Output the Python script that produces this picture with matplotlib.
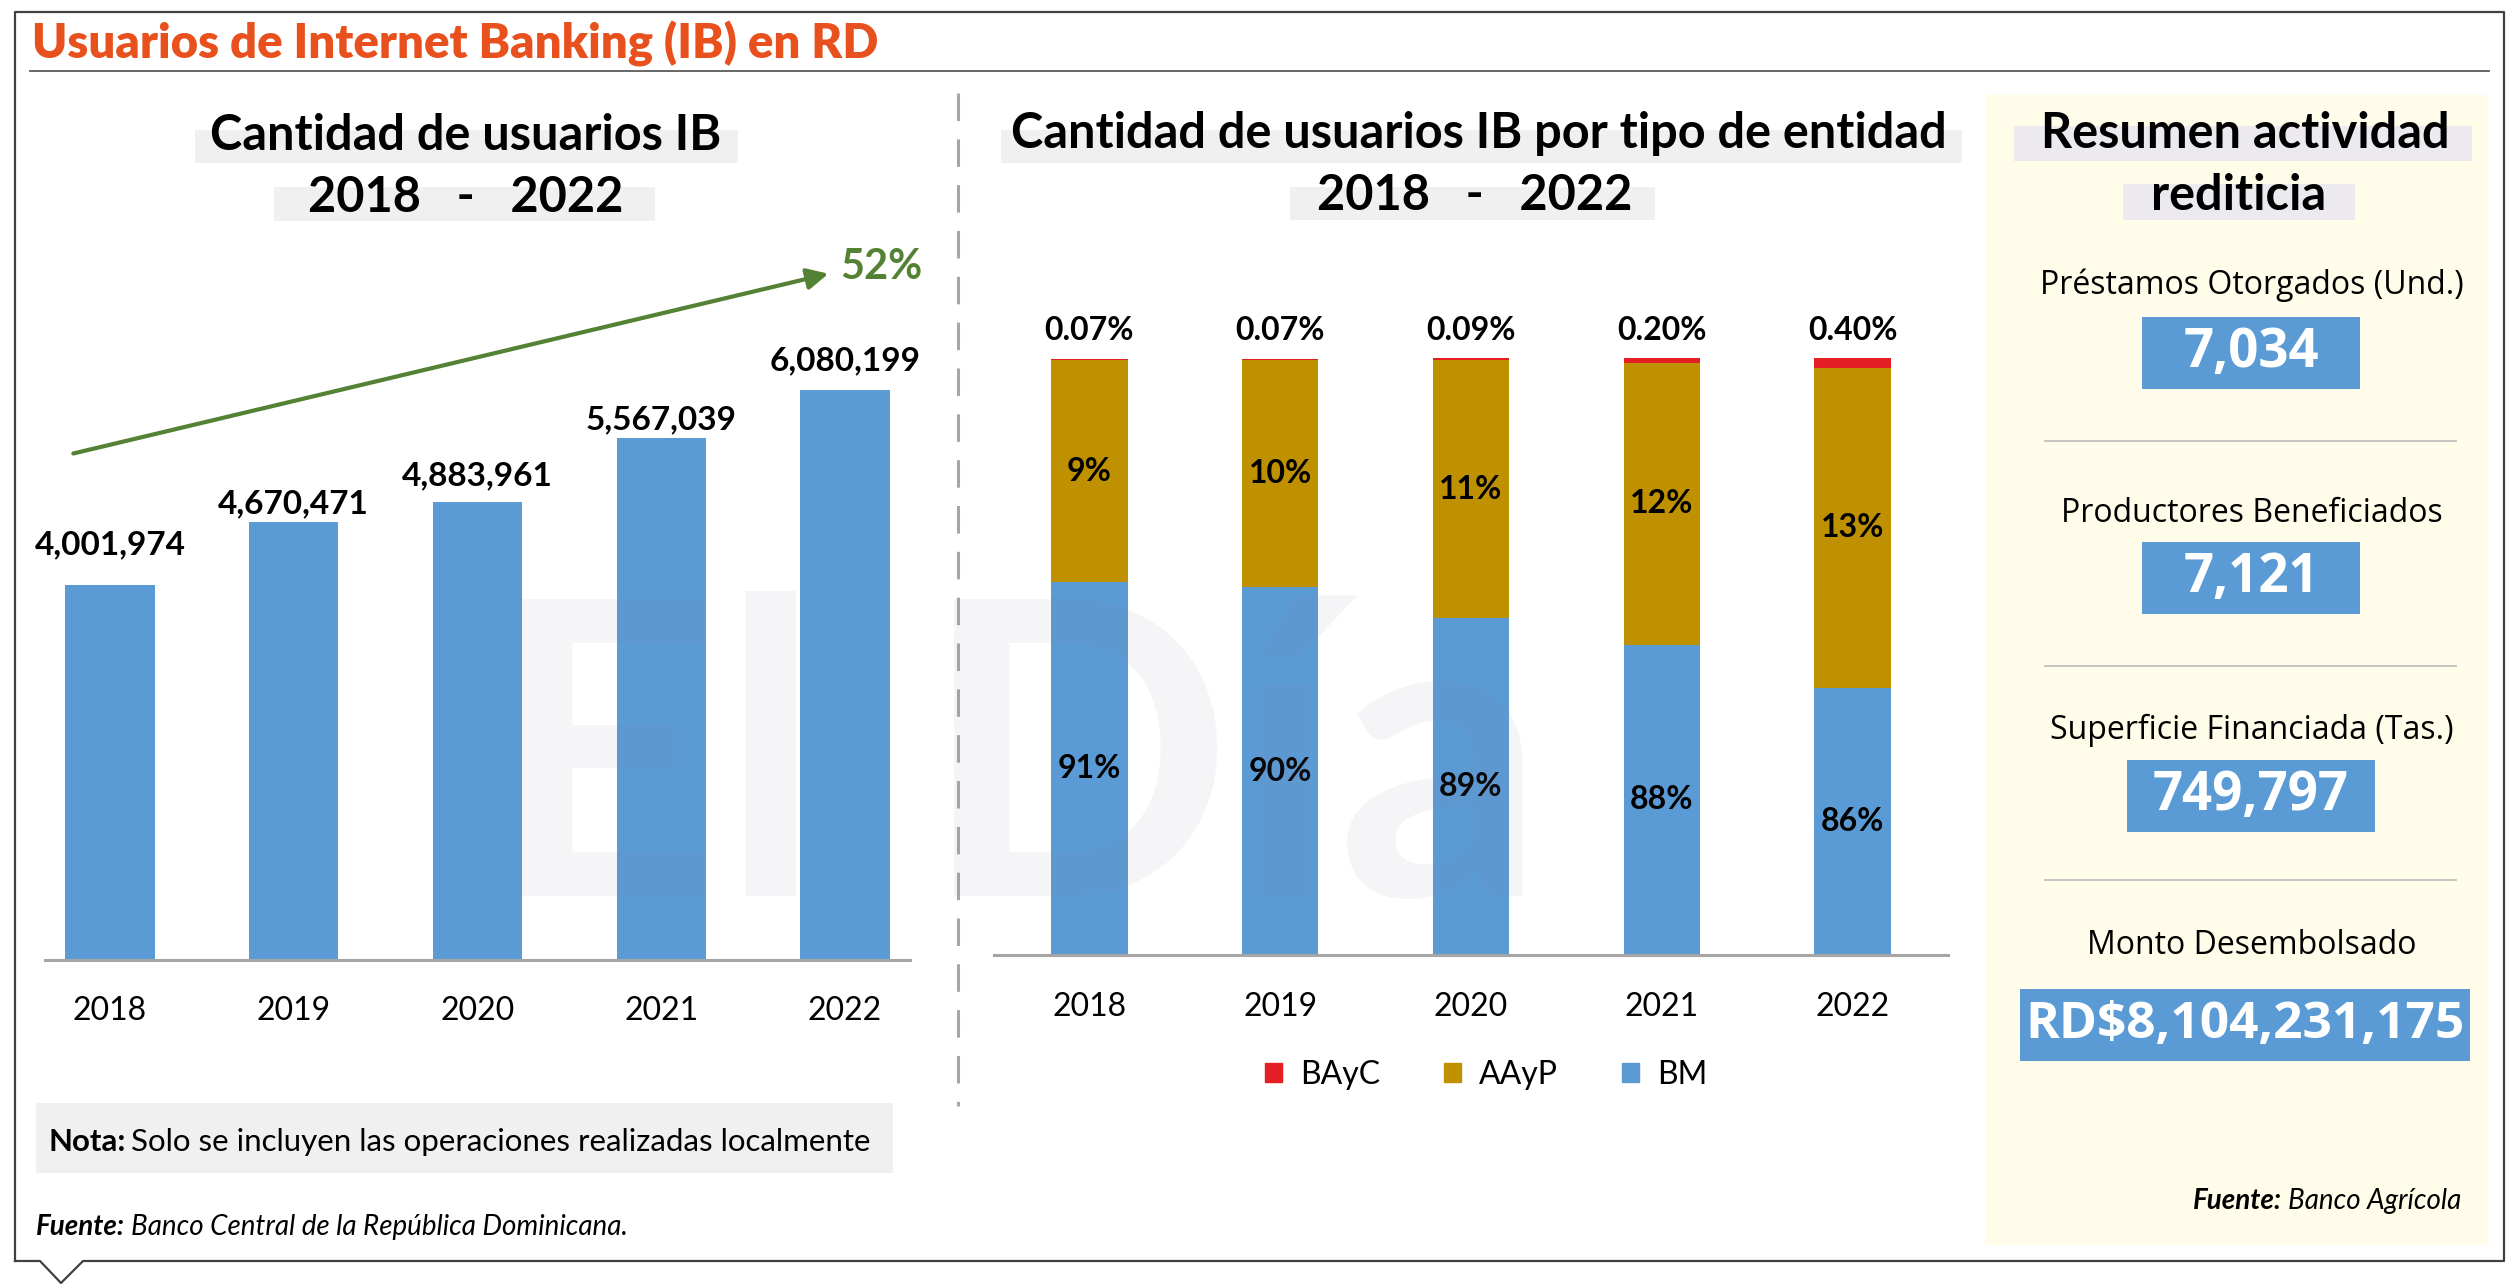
import matplotlib
matplotlib.use('Agg')
import matplotlib.pyplot as plt
from matplotlib.patches import Rectangle, Patch
from matplotlib.lines import Line2D

# Data
years = ['2018', '2019', '2020', '2021', '2022']
usuarios = [4001974, 4670471, 4883961, 5567039, 6080199]

# Share of IB users by entity type (%)
bm = [90.6, 90.4, 89.1, 88.0, 86.2]
aayp = [9.3, 9.5, 10.8, 11.8, 13.4]
bayc = [0.07, 0.07, 0.09, 0.20, 0.40]

resumen_labels = ['Préstamos Otorgados (Und.)', 'Productores Beneficiados',
                  'Superficie Financiada (Tas.)', 'Monto Desembolsado']
resumen_values = ['7,034', '7,121', '749,797', 'RD$8,104,231,175']

# Styling
BLUE = '#5B9BD5'
GOLD = '#BF9000'
RED = '#E31E24'
GREEN = '#548235'
ORANGE = '#E8511E'
BOXGRAY = '#F0F0F0'
W, H = 2520, 1285

# manual lift of value labels (px) as in the original layout
label_lift_px = [40, 18, 26, 18, 29]

plt.rcParams['font.family'] = ['Lato', 'DejaVu Sans']

fig = plt.figure(figsize=(W / 100, H / 100), dpi=100)


def fx(x):
    return x / W


def fy(y):
    return 1 - y / H


def px_rect(x0, y0, x1, y1, **kw):
    fig.patches.append(Rectangle((fx(x0), fy(y1)), (x1 - x0) / W, (y1 - y0) / H,
                                 transform=fig.transFigure, **kw))


def px_text(x, y, s, **kw):
    return fig.text(fx(x), fy(y), s, **kw)


def px_line(xs, ys, **kw):
    fig.add_artist(Line2D([fx(x) for x in xs], [fy(y) for y in ys],
                          transform=fig.transFigure, **kw))


# Frame and header
px_line([15, 15, 2504, 2504, 83, 61, 40, 15], [1261, 12, 12, 1261, 1261, 1283, 1261, 1261],
        color='#404040', lw=1.6)
px_text(32, 44, 'Usuarios de Internet Banking (IB) en RD', fontsize=34, weight='heavy',
        color=ORANGE, va='center', ha='left')
px_line([30, 2489], [71, 71], color='#595959', lw=1.3)

# Dashed separator
px_line([958, 958], [93, 1106], color='#A6A6A6', lw=2.2, dashes=(9, 6))

# Right panel background
px_rect(1985, 95, 2488, 1245, facecolor='#FFFDE9', edgecolor='none')

# Title boxes
px_rect(195, 130, 738, 163, facecolor=BOXGRAY, edgecolor='none')
px_rect(274, 187, 655, 221, facecolor=BOXGRAY, edgecolor='none')
px_text(466, 135, 'Cantidad de usuarios IB', fontsize=35, weight='bold', ha='center', va='center')
px_text(466, 197, '2018   -   2022', fontsize=35, weight='bold', ha='center', va='center')

px_rect(1001, 130, 1962, 163, facecolor=BOXGRAY, edgecolor='none')
px_rect(1290, 187, 1655, 220, facecolor=BOXGRAY, edgecolor='none')
px_text(1479, 133, 'Cantidad de usuarios IB por tipo de entidad', fontsize=35, weight='bold',
        ha='center', va='center')
px_text(1475, 196, '2018   -   2022', fontsize=35, weight='bold', ha='center', va='center')

# ---------------- Left chart ----------------
ax1 = fig.add_axes([fx(45), fy(960), (910 - 45) / W, (960 - 240) / H])
ax1.set_facecolor('none')
x = list(range(len(years)))
ax1.bar(x, usuarios, width=0.485, color=BLUE, zorder=2)
ax1.set_xlim(-0.354, 4.354)
ax1.set_ylim(0, 7.68e6)
for i, v in enumerate(usuarios):
    ax1.annotate(f'{v:,}', xy=(i, v), xytext=(0, label_lift_px[i] * 0.72),
                 textcoords='offset points', ha='center', va='center',
                 fontsize=24, weight='bold')

growth = usuarios[-1] / usuarios[0] - 1
ax1.annotate('', xy=(3.91, usuarios[-1] * 1.204), xytext=(-0.2, usuarios[0] * 1.35),
             arrowprops=dict(arrowstyle='-|>', color=GREEN, lw=3, mutation_scale=32,
                             shrinkA=0, shrinkB=0), annotation_clip=False)
ax1.text(4.2, usuarios[-1] * 1.215, f'{growth:.0%}', color=GREEN, fontsize=30, weight='bold',
         ha='center', va='center', clip_on=False)

ax1.set_xticks(x, years)
ax1.set_yticks([])
ax1.tick_params(axis='x', length=0, labelsize=23, pad=26)
for s in ['left', 'right', 'top']:
    ax1.spines[s].set_visible(False)
ax1.spines['bottom'].set_color('#A6A6A6')
ax1.spines['bottom'].set_linewidth(2.2)

# ---------------- Middle chart ----------------
ax2 = fig.add_axes([fx(994), fy(955), (1948 - 994) / W, (955 - 358) / H])
ax2.set_facecolor('none')
top_aayp = [b + a for b, a in zip(bm, aayp)]
ax2.bar(x, bm, width=0.40, color=BLUE, zorder=2, label='BM')
ax2.bar(x, aayp, width=0.40, bottom=bm, color=GOLD, zorder=2, label='AAyP')
ax2.bar(x, bayc, width=0.40, bottom=top_aayp, color=RED, zorder=2, label='BAyC')
ax2.set_xlim(-0.5, 4.5)
ax2.set_ylim(75, 100)
ymin = ax2.get_ylim()[0]
for i in x:
    ax2.text(i, (ymin + bm[i]) / 2, f'{bm[i]:.0f}%', ha='center', va='center',
             fontsize=23, weight='bold', zorder=3)
    ax2.text(i, bm[i] + aayp[i] / 2, f'{aayp[i]:.0f}%', ha='center', va='center',
             fontsize=23, weight='bold', zorder=3)
    ax2.annotate(f'{bayc[i]:.2f}%', xy=(i, top_aayp[i] + bayc[i]), xytext=(0, 20),
                 textcoords='offset points', ha='center', va='center',
                 fontsize=23, weight='bold', annotation_clip=False)
ax2.set_xticks(x, years)
ax2.set_yticks([])
ax2.tick_params(axis='x', length=0, labelsize=23, pad=27)
for s in ['left', 'right', 'top']:
    ax2.spines[s].set_visible(False)
ax2.spines['bottom'].set_color('#A6A6A6')
ax2.spines['bottom'].set_linewidth(2.2)

handles = [Patch(color=RED), Patch(color=GOLD), Patch(color=BLUE)]
fig.legend(handles, ['BAyC', 'AAyP', 'BM'], loc='center', bbox_to_anchor=(fx(1486), fy(1075)),
           ncol=3, frameon=False, fontsize=23, handlelength=0.55, handleheight=0.55,
           handletextpad=0.55, columnspacing=2.0)

# ---------------- Right panel ----------------
px_rect(2014, 126, 2472, 161, facecolor='#ECEAEF', edgecolor='none')
px_rect(2123, 184, 2355, 220, facecolor='#ECEAEF', edgecolor='none')
px_text(2245, 133, 'Resumen actividad', fontsize=35, weight='bold', ha='center', va='center')
px_text(2239, 196, 'rediticia', fontsize=35, weight='bold', ha='center', va='center')

label_y = [285, 514, 730, 946]
box_y = [(317, 389), (542, 614), (760, 832), (989, 1061)]
box_x = [(2142, 2360), (2142, 2360), (2127, 2375), (2020, 2470)]
for lab, val, ly, (b0, b1), (x0, x1) in zip(resumen_labels, resumen_values, label_y, box_y, box_x):
    px_text(2252, ly, lab, fontsize=23, family=['Open Sans', 'DejaVu Sans'],
            ha='center', va='center')
    px_rect(x0, b0, x1, b1, facecolor=BLUE, edgecolor='none')
    px_text((x0 + x1) / 2, (b0 + b1) / 2, val, fontsize=38 if len(val) < 10 else 37,
            weight='bold', color='white', family=['Open Sans', 'DejaVu Sans'],
            ha='center', va='center')
for sy in [441, 666, 880]:
    px_line([2045, 2456], [sy, sy], color='#BFBFBF', lw=1.3)

t = px_text(2461, 1201, 'Banco Agrícola', fontsize=20, style='italic', ha='right', va='center')

# Notes
px_rect(36, 1103, 893, 1173, facecolor=BOXGRAY, edgecolor='none')
t1 = px_text(48, 1142, 'Nota:', fontsize=22.5, weight='bold', ha='left', va='center')
t2 = px_text(36, 1227, 'Fuente:', fontsize=20, weight='bold', style='italic', ha='left', va='center')
fig.canvas.draw()
r = fig.canvas.get_renderer()
bb1 = t1.get_window_extent(r)
px_text(bb1.x1 + 6, 1142, 'Solo se incluyen las operaciones realizadas localmente',
        fontsize=22.5, ha='left', va='center')
bb2 = t2.get_window_extent(r)
px_text(bb2.x1 + 6, 1227, 'Banco Central de la República Dominicana.', fontsize=20,
        style='italic', ha='left', va='center')
bbt = t.get_window_extent(r)
px_text(bbt.x0 - 6, 1201, 'Fuente:', fontsize=20, weight='bold', style='italic',
        ha='right', va='center')

# Watermark
px_text(1015, 778, 'El Día', fontsize=295, weight='bold', color=(0.5, 0.5, 0.62), alpha=0.08,
        ha='center', va='center', zorder=5)

fig.savefig('out.png', dpi=100)
